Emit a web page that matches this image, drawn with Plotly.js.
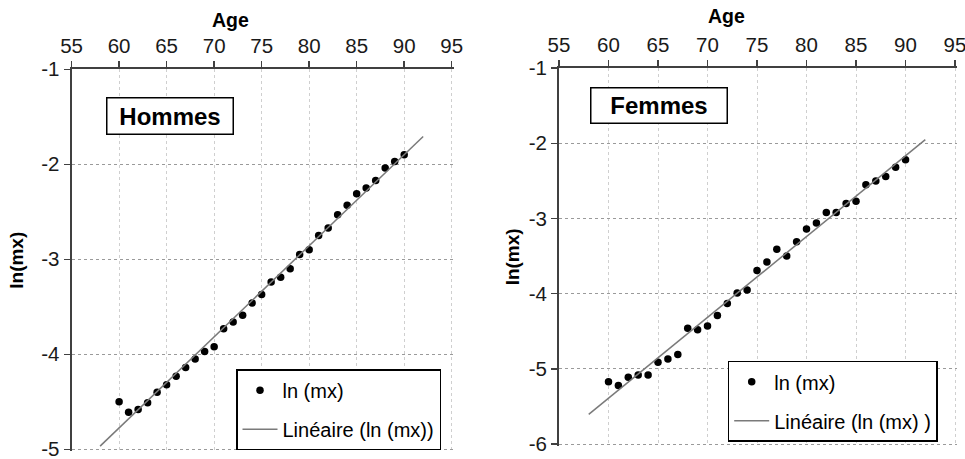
<!DOCTYPE html>
<html>
<head>
<meta charset="utf-8">
<script src="https://cdn.plot.ly/plotly-3.0.1.min.js"></script>
<style>html,body{margin:0;padding:0;background:#fff;}#chart{width:965px;height:459px;}</style>
</head>
<body>
<div id="chart"></div>
<script>
// Data
const ages = [60,61,62,63,64,65,66,67,68,69,70,71,72,73,74,75,76,77,78,79,80,81,82,83,84,85,86,87,88,89,90];
const lnMxHommes = [-4.50,-4.61,-4.58,-4.51,-4.40,-4.32,-4.23,-4.14,-4.05,-3.97,-3.92,-3.73,-3.66,-3.59,-3.46,-3.37,-3.24,-3.19,-3.10,-2.95,-2.90,-2.75,-2.67,-2.53,-2.43,-2.31,-2.25,-2.17,-2.04,-1.97,-1.90];
const lnMxFemmes = [-5.17,-5.22,-5.11,-5.08,-5.08,-4.91,-4.87,-4.81,-4.46,-4.48,-4.43,-4.29,-4.13,-3.99,-3.95,-3.69,-3.58,-3.41,-3.50,-3.31,-3.14,-3.06,-2.92,-2.92,-2.80,-2.77,-2.55,-2.50,-2.44,-2.32,-2.22];
const xTicks = [55,60,65,70,75,80,85,90,95];
const yTicksH = [-5,-4,-3,-2,-1];
const yTicksF = [-6,-5,-4,-3,-2,-1];
const trendForecast = 2; // Excel trendline forecast (periods before/after)

function linFit(x, y) {
  const n = x.length;
  const mx = x.reduce((a,b)=>a+b,0)/n, my = y.reduce((a,b)=>a+b,0)/n;
  let sxy = 0, sxx = 0;
  for (let i=0;i<n;i++){ sxy += (x[i]-mx)*(y[i]-my); sxx += (x[i]-mx)*(x[i]-mx); }
  const b = sxy/sxx, a = my - b*mx;
  return t => a + b*t;
}
const tx = [Math.min(...ages)-trendForecast, Math.max(...ages)+trendForecast];
const fH = linFit(ages, lnMxHommes), fF = linFit(ages, lnMxFemmes);

const FONT = 'Arial, "Liberation Sans", sans-serif';
const markerStyle = {color:'#000', size:7.5};
const lineStyle = {color:'#7a7a7a', width:1.5};

const traces = [
  {x: ages, y: lnMxHommes, type:'scatter', mode:'markers', name:'ln (mx)', marker: markerStyle, xaxis:'x', yaxis:'y', legend:'legend', legendgroup:'a'},
  {x: tx, y: tx.map(fH), type:'scatter', mode:'lines', name:'Linéaire (ln (mx))', line: lineStyle, xaxis:'x', yaxis:'y', legend:'legend', legendgroup:'b'},
  {x: ages, y: lnMxFemmes, type:'scatter', mode:'markers', name:'ln (mx)', marker: markerStyle, xaxis:'x2', yaxis:'y2', legend:'legend2', legendgroup:'c'},
  {x: tx, y: tx.map(fF), type:'scatter', mode:'lines', name:'Linéaire (ln (mx) )', line: lineStyle, xaxis:'x2', yaxis:'y2', legend:'legend2', legendgroup:'d'}
];

const W = 965, H = 459;
const px = v => v/W, py = v => (H - v)/H;

function xAxis(domain, anchor) {
  return {
    domain: domain, anchor: anchor, side:'top', range:[55,95.2],
    tickvals: xTicks, ticktext: xTicks.map(String),
    ticks:'outside', ticklen:6, tickwidth:1.5, tickcolor:'#404040',
    showline:true, linecolor:'#404040', linewidth:2,
    showgrid:true, gridcolor:'#cfcfcf', griddash:'dot', gridwidth:1,
    zeroline:false, automargin:false, ticklabeloverflow:'allow',
    tickfont:{family:FONT, size:20.5, color:'#1a1a1a'}
  };
}
function yAxis(domain, anchor, range, ticks, standoff) {
  return {
    domain: domain, anchor: anchor, range: range,
    tickvals: ticks, ticktext: ticks.map(String),
    ticks:'outside', ticklen:6, tickwidth:1.5, tickcolor:'#404040',
    showline:true, linecolor:'#404040', linewidth:2,
    showgrid:true, gridcolor:'#9a9a9a', griddash:'dot', gridwidth:1,
    zeroline:false, automargin:false, ticklabeloverflow:'allow',
    tickfont:{family:FONT, size:20.5, color:'#1a1a1a'},
    title:{text:'ln(mx)', font:{family:FONT, size:19, color:'#000', weight:'bold'}, standoff: standoff}
  };
}

const layout = {
  width: W, height: H,
  margin:{l:0, r:0, t:0, b:0},
  paper_bgcolor:'#fff', plot_bgcolor:'#fff',
  font:{family:FONT, color:'#000'},
  xaxis: xAxis([px(71.6), px(453.6)], 'y'),
  yaxis: yAxis([py(451.2), py(69.3)], 'x', [-5.02,-1], yTicksH, 13),
  xaxis2: xAxis([px(559), px(957)], 'y2'),
  yaxis2: yAxis([py(445.6), py(68.1)], 'x2', [-6.02,-1], yTicksF, 4),
  legend: {x: px(236), y: py(369.3), xanchor:'left', yanchor:'top', bgcolor:'#fff', bordercolor:'#000', borderwidth:1.5,
           font:{family:FONT, size:20, color:'#000'}, traceorder:'grouped', tracegroupgap:10, itemwidth:35},
  legend2: {x: px(727.7), y: py(360.7), xanchor:'left', yanchor:'top', bgcolor:'#fff', bordercolor:'#000', borderwidth:1.5,
           font:{family:FONT, size:20, color:'#000'}, traceorder:'grouped', tracegroupgap:10, itemwidth:35},
  annotations: [
    {text:'Age', xref:'paper', yref:'paper', x: px(230), y: py(20), xanchor:'center', yanchor:'middle', showarrow:false,
     font:{family:FONT, size:19.5, color:'#000', weight:'bold'}},
    {text:'Age', xref:'paper', yref:'paper', x: px(726), y: py(16), xanchor:'center', yanchor:'middle', showarrow:false,
     font:{family:FONT, size:19.5, color:'#000', weight:'bold'}},
    {text:'Hommes', xref:'paper', yref:'paper', x: px(169.5), y: py(115.5), xanchor:'center', yanchor:'middle', showarrow:false,
     width:125, height:35, bgcolor:'#fff', bordercolor:'#000', borderwidth:1.5, borderpad:0,
     font:{family:FONT, size:24, color:'#000', weight:'bold'}},
    {text:'Femmes', xref:'paper', yref:'paper', x: px(658.5), y: py(105.5), xanchor:'center', yanchor:'middle', showarrow:false,
     width:135, height:34, bgcolor:'#fff', bordercolor:'#000', borderwidth:1.5, borderpad:0,
     font:{family:FONT, size:24, color:'#000', weight:'bold'}}
  ],
  showlegend:true
};

Plotly.newPlot('chart', traces, layout, {staticPlot:true, displayModeBar:false});
</script>
</body>
</html>
